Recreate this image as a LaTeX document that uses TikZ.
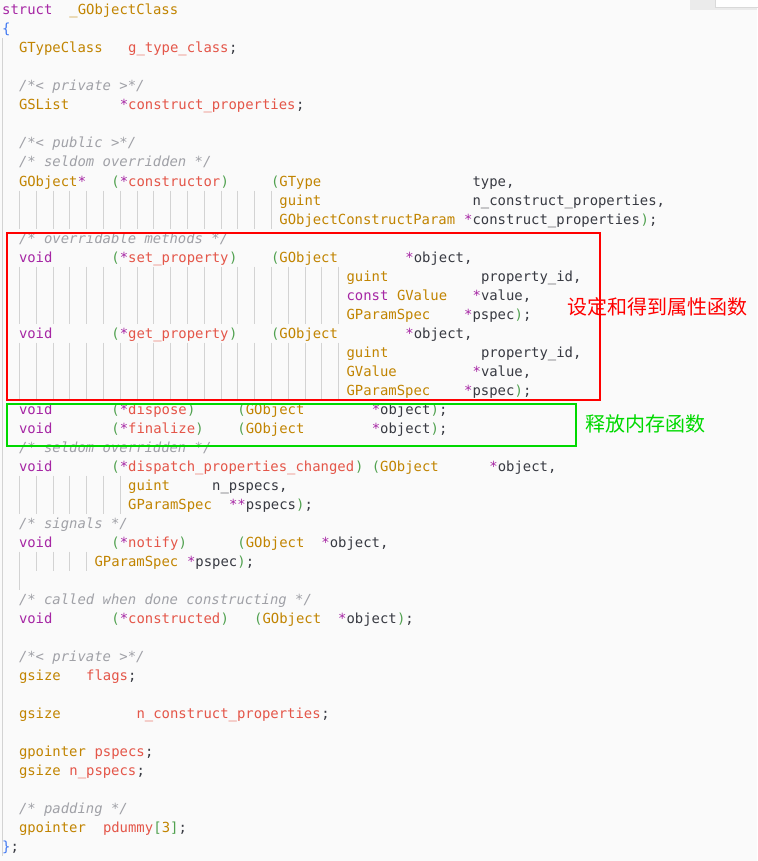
\documentclass[tikz,border=0pt]{standalone}
\usepackage{fontspec}
\setmonofont{DejaVu Sans Mono}
\newfontfamily\cjk{Noto Sans CJK SC}
\definecolor{bg}{HTML}{FAFAFA}
\definecolor{cgold}{HTML}{C18401}
\definecolor{cpur}{HTML}{A626A4}
\definecolor{cred}{HTML}{E45649}
\definecolor{cgrn}{HTML}{50A14F}
\definecolor{ccom}{HTML}{A0A1A7}
\definecolor{cdk}{HTML}{383A42}
\definecolor{cblu}{HTML}{4078F2}
\definecolor{guide}{HTML}{D3D3D3}
\newcommand{\C}[4]{\node[anchor=base west,inner sep=0pt,text=#3,font=\ttfamily\fontsize{13.9}{15}\selectfont] at ({2+8.4*#1},{-(15+19*#2)}) {#4};}
\newcommand{\K}[3]{\node[anchor=base west,inner sep=0pt,text=ccom,font=\ttfamily\itshape\fontsize{13.9}{15}\selectfont] at ({2+8.4*#1},{-(15+19*#2)}) {#3};}
\newcommand{\G}[2]{\draw[guide,line width=0.8pt] ({2.5+8.4*#1},{-(19*#2+0.5)}) -- ({2.5+8.4*#1},{-(19*#2+19.5)});}
\begin{document}
\begin{tikzpicture}[x=1pt,y=1pt]
\fill[bg] (0,0) rectangle (757,-861);
\useasboundingbox (0,0) rectangle (757,-861);
\fill[black!8] (690,0) rectangle (757,-10);
\filldraw[fill=white,draw=black!15] (715,1) rectangle (758,-7);
% left guide
\draw[guide,line width=0.8pt] (2.5,-38) -- (2.5,-856);
% indent guides
\foreach \r in {10,11}{\foreach \c in {2,4,...,32}{\G{\c}{\r}}}
\foreach \r in {14,15,16,18,19,20}{\foreach \c in {2,4,...,40}{\G{\c}{\r}}}
\foreach \r in {25,26}{\foreach \c in {2,4,...,14}{\G{\c}{\r}}}
\foreach \c in {2,4,...,10}{\G{\c}{29}}
\G{2}{30}
% code
\C{0}{0}{cpur}{struct}\C{8}{0}{cgold}{\_GObjectClass}
\C{0}{1}{cblu}{\{}
\C{2}{2}{cgold}{GTypeClass}\C{15}{2}{cred}{g\_type\_class}\C{27}{2}{cdk}{;}
\K{2}{4}{/*< private >*/}
\C{2}{5}{cgold}{GSList}\C{14}{5}{cpur}{*}\C{15}{5}{cred}{construct\_properties}\C{35}{5}{cdk}{;}
\K{2}{7}{/*< public >*/}
\K{2}{8}{/* seldom overridden */}
\C{2}{9}{cgold}{GObject}\C{9}{9}{cpur}{*}\C{13}{9}{cgrn}{(}\C{14}{9}{cpur}{*}\C{15}{9}{cred}{constructor}\C{26}{9}{cgrn}{)}
\C{32}{9}{cgrn}{(}\C{33}{9}{cgold}{GType}\C{56}{9}{cdk}{type,}
\C{33}{10}{cgold}{guint}\C{56}{10}{cdk}{n\_construct\_properties,}
\C{33}{11}{cgold}{GObjectConstructParam}\C{55}{11}{cpur}{*}\C{56}{11}{cdk}{construct\_properties}\C{76}{11}{cgrn}{)}\C{77}{11}{cdk}{;}
\K{2}{12}{/* overridable methods */}
\foreach \r/\n in {13/set\_property,17/get\_property}{
\C{2}{\r}{cpur}{void}\C{13}{\r}{cgrn}{(}\C{14}{\r}{cpur}{*}\C{15}{\r}{cred}{\n}\C{27}{\r}{cgrn}{)}
\C{32}{\r}{cgrn}{(}\C{33}{\r}{cgold}{GObject}\C{48}{\r}{cpur}{*}\C{49}{\r}{cdk}{object,}}
\foreach \r in {14,18}{\C{41}{\r}{cgold}{guint}\C{57}{\r}{cdk}{property\_id,}}
\C{41}{15}{cpur}{const}\C{47}{15}{cgold}{GValue}\C{56}{15}{cpur}{*}\C{57}{15}{cdk}{value,}
\C{41}{19}{cgold}{GValue}\C{56}{19}{cpur}{*}\C{57}{19}{cdk}{value,}
\foreach \r in {16,20}{\C{41}{\r}{cgold}{GParamSpec}\C{55}{\r}{cpur}{*}\C{56}{\r}{cdk}{pspec}\C{61}{\r}{cgrn}{)}\C{62}{\r}{cdk}{;}}
\C{2}{21}{cpur}{void}\C{13}{21}{cgrn}{(}\C{14}{21}{cpur}{*}\C{15}{21}{cred}{dispose}\C{22}{21}{cgrn}{)}
\C{2}{22}{cpur}{void}\C{13}{22}{cgrn}{(}\C{14}{22}{cpur}{*}\C{15}{22}{cred}{finalize}\C{23}{22}{cgrn}{)}
\foreach \r in {21,22}{\C{28}{\r}{cgrn}{(}\C{29}{\r}{cgold}{GObject}\C{44}{\r}{cpur}{*}\C{45}{\r}{cdk}{object}\C{51}{\r}{cgrn}{)}\C{52}{\r}{cdk}{;}}
\K{2}{23}{/* seldom overridden */}
\C{2}{24}{cpur}{void}\C{13}{24}{cgrn}{(}\C{14}{24}{cpur}{*}\C{15}{24}{cred}{dispatch\_properties\_changed}\C{42}{24}{cgrn}{)}
\C{44}{24}{cgrn}{(}\C{45}{24}{cgold}{GObject}\C{58}{24}{cpur}{*}\C{59}{24}{cdk}{object,}
\C{15}{25}{cgold}{guint}\C{25}{25}{cdk}{n\_pspecs,}
\C{15}{26}{cgold}{GParamSpec}\C{27}{26}{cpur}{**}\C{29}{26}{cdk}{pspecs}\C{35}{26}{cgrn}{)}\C{36}{26}{cdk}{;}
\K{2}{27}{/* signals */}
\C{2}{28}{cpur}{void}\C{13}{28}{cgrn}{(}\C{14}{28}{cpur}{*}\C{15}{28}{cred}{notify}\C{21}{28}{cgrn}{)}
\C{28}{28}{cgrn}{(}\C{29}{28}{cgold}{GObject}\C{38}{28}{cpur}{*}\C{39}{28}{cdk}{object,}
\C{11}{29}{cgold}{GParamSpec}\C{22}{29}{cpur}{*}\C{23}{29}{cdk}{pspec}\C{28}{29}{cgrn}{)}\C{29}{29}{cdk}{;}
\K{2}{31}{/* called when done constructing */}
\C{2}{32}{cpur}{void}\C{13}{32}{cgrn}{(}\C{14}{32}{cpur}{*}\C{15}{32}{cred}{constructed}\C{26}{32}{cgrn}{)}
\C{30}{32}{cgrn}{(}\C{31}{32}{cgold}{GObject}\C{40}{32}{cpur}{*}\C{41}{32}{cdk}{object}\C{47}{32}{cgrn}{)}\C{48}{32}{cdk}{;}
\K{2}{34}{/*< private >*/}
\C{2}{35}{cgold}{gsize}\C{10}{35}{cred}{flags}\C{15}{35}{cdk}{;}
\C{2}{37}{cgold}{gsize}\C{16}{37}{cred}{n\_construct\_properties}\C{38}{37}{cdk}{;}
\C{2}{39}{cgold}{gpointer}\C{11}{39}{cred}{pspecs}\C{17}{39}{cdk}{;}
\C{2}{40}{cgold}{gsize}\C{8}{40}{cred}{n\_pspecs}\C{16}{40}{cdk}{;}
\K{2}{42}{/* padding */}
\C{2}{43}{cgold}{gpointer}\C{12}{43}{cred}{pdummy}\C{18}{43}{cgrn}{[}\C{19}{43}{cgold}{3}\C{20}{43}{cgrn}{]}\C{21}{43}{cdk}{;}
\C{0}{44}{cblu}{\}}\C{1}{44}{cdk}{;}
% boxes
\node[draw=red,line width=1.6pt,minimum width=593pt,minimum height=167pt,inner sep=0pt,anchor=north west] (rbox) at (6,-232) {};
\node[draw=green!85!black,line width=1.6pt,minimum width=569pt,minimum height=42pt,inner sep=0pt,anchor=north west] (gbox) at (6,-403) {};
\node[anchor=base west,inner sep=0pt,text=red,font=\cjk\fontsize{20}{22}\selectfont] (rlab) at (567,-314) {设定和得到属性函数};
\node[anchor=base west,inner sep=0pt,text=green!85!black,font=\cjk\fontsize{20}{22}\selectfont] (glab) at (585,-431) {释放内存函数};
\end{tikzpicture}
\end{document}
